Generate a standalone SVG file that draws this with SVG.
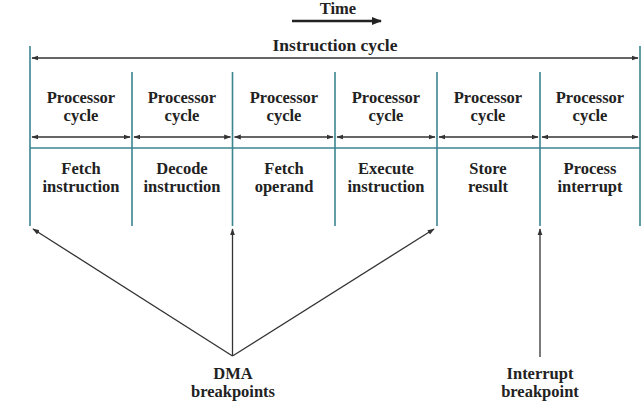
<svg xmlns="http://www.w3.org/2000/svg" width="644" height="402" viewBox="0 0 644 402">
<style>
text{font-family:"Liberation Serif","Times New Roman",serif;font-weight:bold;font-size:16.5px;fill:#222;text-anchor:middle}
.big{font-size:17.5px}
.teal{stroke:#3b8591;stroke-width:1.6;fill:none}
.arr{stroke:#333;stroke-width:1.3;fill:none}
</style>
<defs>
<marker id="ah" viewBox="0 0 10 10" refX="9" refY="5" markerWidth="7" markerHeight="7" markerUnits="userSpaceOnUse" orient="auto-start-reverse"><path d="M0,1.5 L10,5 L0,8.5 Z" fill="#333"/></marker>
<marker id="ahb" viewBox="0 0 10 10" refX="9" refY="5" markerWidth="10" markerHeight="10" markerUnits="userSpaceOnUse" orient="auto"><path d="M0,1 L10,5 L0,9 Z" fill="#222"/></marker>
</defs>
<rect width="644" height="402" fill="#fff"/>
<g id="time">
<text x="338" y="14">Time</text>
<line x1="292" y1="21" x2="381" y2="21" stroke="#222" stroke-width="2.6" marker-end="url(#ahb)"/>
</g>
<g id="frame">
<line class="teal" x1="30" y1="46" x2="30" y2="226"/>
<line class="teal" x1="640" y1="46" x2="640" y2="226"/>
<line class="teal" x1="132" y1="72" x2="132" y2="226"/>
<line class="teal" x1="232.5" y1="72" x2="232.5" y2="226"/>
<line class="teal" x1="335" y1="72" x2="335" y2="226"/>
<line class="teal" x1="437" y1="72" x2="437" y2="226"/>
<line class="teal" x1="540" y1="72" x2="540" y2="226"/>
<line class="teal" x1="30" y1="148" x2="640" y2="148"/>
</g>
<g id="instruction-cycle">
<text class="big" x="335" y="51">Instruction cycle</text>
<line class="arr" x1="32" y1="58" x2="638" y2="58" marker-start="url(#ah)" marker-end="url(#ah)"/>
</g>
<g id="cycle1"><text x="81" y="103">Processor</text><text x="81" y="121">cycle</text><text x="81" y="174">Fetch</text><text x="81" y="192">instruction</text></g>
<g id="cycle2"><text x="182" y="103">Processor</text><text x="182" y="121">cycle</text><text x="182" y="174">Decode</text><text x="182" y="192">instruction</text></g>
<g id="cycle3"><text x="284" y="103">Processor</text><text x="284" y="121">cycle</text><text x="284" y="174">Fetch</text><text x="284" y="192">operand</text></g>
<g id="cycle4"><text x="386" y="103">Processor</text><text x="386" y="121">cycle</text><text x="386" y="174">Execute</text><text x="386" y="192">instruction</text></g>
<g id="cycle5"><text x="488" y="103">Processor</text><text x="488" y="121">cycle</text><text x="488" y="174">Store</text><text x="488" y="192">result</text></g>
<g id="cycle6"><text x="590" y="103">Processor</text><text x="590" y="121">cycle</text><text x="590" y="174">Process</text><text x="590" y="192">interrupt</text></g>
<g id="connectors">
<line class="arr" x1="32" y1="137" x2="130" y2="137" marker-start="url(#ah)" marker-end="url(#ah)"/>
<line class="arr" x1="134" y1="137" x2="230.5" y2="137" marker-start="url(#ah)" marker-end="url(#ah)"/>
<line class="arr" x1="234.5" y1="137" x2="333" y2="137" marker-start="url(#ah)" marker-end="url(#ah)"/>
<line class="arr" x1="337" y1="137" x2="435" y2="137" marker-start="url(#ah)" marker-end="url(#ah)"/>
<line class="arr" x1="439" y1="137" x2="538" y2="137" marker-start="url(#ah)" marker-end="url(#ah)"/>
<line class="arr" x1="542" y1="137" x2="638" y2="137" marker-start="url(#ah)" marker-end="url(#ah)"/>
<line class="arr" x1="232.5" y1="356" x2="33" y2="229" marker-end="url(#ah)"/>
<line class="arr" x1="232.5" y1="356" x2="232.5" y2="229" marker-end="url(#ah)"/>
<line class="arr" x1="232.5" y1="356" x2="434" y2="229" marker-end="url(#ah)"/>
<line class="arr" x1="540" y1="357" x2="540" y2="229" marker-end="url(#ah)"/>
</g>
<g id="dma"><text x="233" y="379">DMA</text><text x="233" y="397">breakpoints</text></g>
<g id="interrupt"><text x="540" y="379">Interrupt</text><text x="540" y="397">breakpoint</text></g>
</svg>
